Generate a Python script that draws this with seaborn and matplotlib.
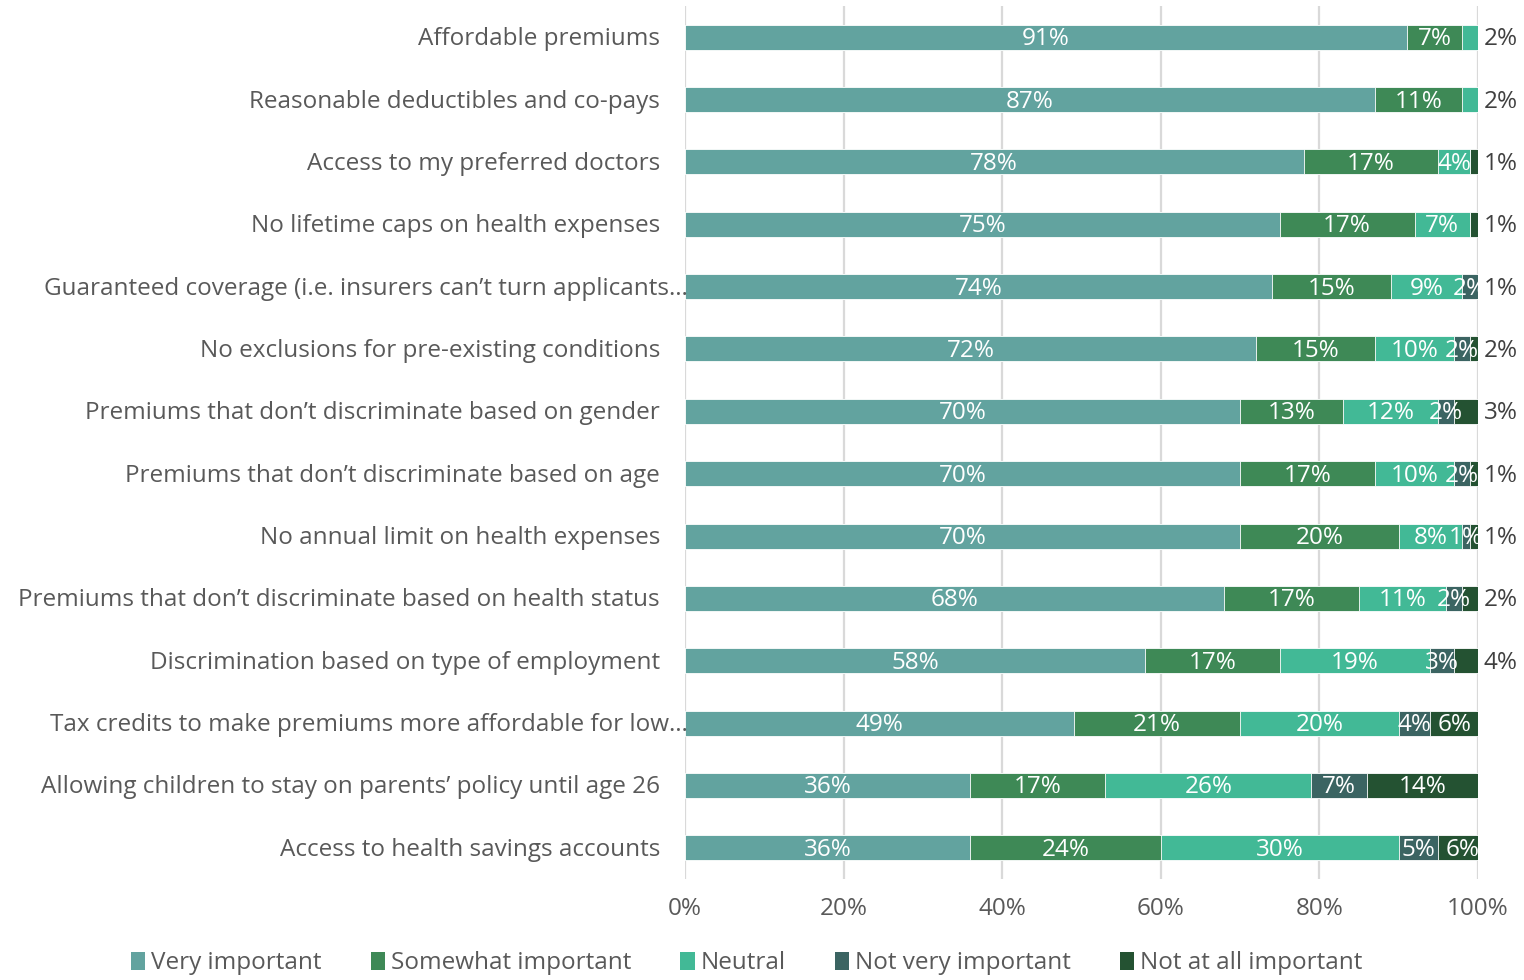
import numpy as np
import pandas as pd
import matplotlib
matplotlib.use("Agg")
import matplotlib.pyplot as plt
import matplotlib.transforms as mtransforms
from matplotlib.patches import Patch
import seaborn as sns

# ---- data -------------------------------------------------------------
features = [
    "Affordable premiums",
    "Reasonable deductibles and co-pays",
    "Access to my preferred doctors",
    "No lifetime caps on health expenses",
    "Guaranteed coverage (i.e. insurers can\u2019t turn applicants\u2026",
    "No exclusions for pre-existing conditions",
    "Premiums that don\u2019t discriminate based on gender",
    "Premiums that don\u2019t discriminate based on age",
    "No annual limit on health expenses",
    "Premiums that don\u2019t discriminate based on health status",
    "Discrimination based on type of employment",
    "Tax credits to make premiums more affordable for low\u2026",
    "Allowing children to stay on parents\u2019 policy until age 26",
    "Access to health savings accounts",
]
levels = ["Very important", "Somewhat important", "Neutral",
          "Not very important", "Not at all important"]

very_important     = [91, 87, 78, 75, 74, 72, 70, 70, 70, 68, 58, 49, 36, 36]
somewhat_important = [7, 11, 17, 17, 15, 15, 13, 17, 20, 17, 17, 21, 17, 24]
neutral            = [2, 2, 4, 7, 9, 10, 12, 10, 8, 11, 19, 20, 26, 30]
not_very_important = [0, 0, 0, 0, 2, 2, 2, 2, 1, 2, 3, 4, 7, 5]
not_at_all         = [0, 0, 1, 1, 1, 2, 3, 1, 1, 2, 4, 6, 14, 6]

x_ticks = [0, 20, 40, 60, 80, 100]
x_tick_labels = ["0%", "20%", "40%", "60%", "80%", "100%"]

# ---- styling ----------------------------------------------------------
colors = ["#62A39F", "#3E8956", "#42B996", "#3B6462", "#245232"]
text_color = "#595959"
grid_color = "#D9D9D9"

sns.set_theme(style="white")
plt.rcParams["font.family"] = ["Open Sans", "DejaVu Sans"]
fs = 17.5

values = np.array([very_important, somewhat_important, neutral,
                   not_very_important, not_at_all], dtype=float).T
cum = np.cumsum(values, axis=1)

df = pd.DataFrame(cum, columns=levels)
df["feature"] = features

fig = plt.figure(figsize=(15.24, 9.80), dpi=100)
ax = fig.add_axes([685 / 1524, 1 - 879 / 980, (1478 - 685) / 1524, (879 - 6) / 980])

# stacked bars: cumulative totals drawn back to front
for i in range(len(levels) - 1, -1, -1):
    sns.barplot(data=df, x=levels[i], y="feature", order=features,
                orient="h", color=colors[i], width=0.4, saturation=1,
                edgecolor="white", linewidth=0.6, ax=ax, zorder=2)

ax.set_xlim(0, 100)
ax.set_ylim(len(features) - 0.5, -0.5)
ax.set_xticks(x_ticks)
ax.set_xticklabels(x_tick_labels, color=text_color, fontsize=fs)
ax.tick_params(axis="x", length=0, pad=13)
ax.set_yticks(range(len(features)))
ax.set_yticklabels([])
ax.tick_params(axis="y", length=0)
ax.set_xlabel("")
ax.set_ylabel("")
for s in ax.spines.values():
    s.set_visible(False)
for xv in x_ticks:
    ax.axvline(xv, color=grid_color, lw=1.6, zorder=0)

# category labels
ytrans = ax.get_yaxis_transform()
for r, name in enumerate(features):
    dx = 3 if name.endswith("\u2026") else -25
    off = mtransforms.offset_copy(ytrans, fig=fig, x=dx, y=-2, units="dots")
    ax.text(0, r, name, transform=off, ha="right", va="center",
            fontsize=fs, color=text_color, clip_on=False)

# value labels
dtrans = mtransforms.offset_copy(ax.transData, fig=fig, x=0, y=-2, units="dots")
for r in range(len(features)):
    row = values[r]
    nz = np.nonzero(row)[0]
    last = nz[-1]
    for i in nz:
        v = row[i]
        label = f"{int(v)}%"
        if i == last and v < 5:
            ax.text(102.9, r, label, ha="center", va="center", transform=dtrans,
                    fontsize=fs, color="#404040", clip_on=False)
        else:
            center = cum[r, i] - v / 2
            ax.text(center, r, label, ha="center", va="center", transform=dtrans,
                    fontsize=fs, color="white", clip_on=True, zorder=5)

handles = [Patch(facecolor=c, edgecolor="none") for c in colors]
fig.legend(handles, levels, loc="center", bbox_to_anchor=(0.49, 0.017),
           ncol=5, frameon=False, fontsize=fs, labelcolor=text_color,
           handlelength=0.6, handleheight=0.8, handletextpad=0.25,
           columnspacing=2.0)

fig.savefig("out.png", dpi=100)
